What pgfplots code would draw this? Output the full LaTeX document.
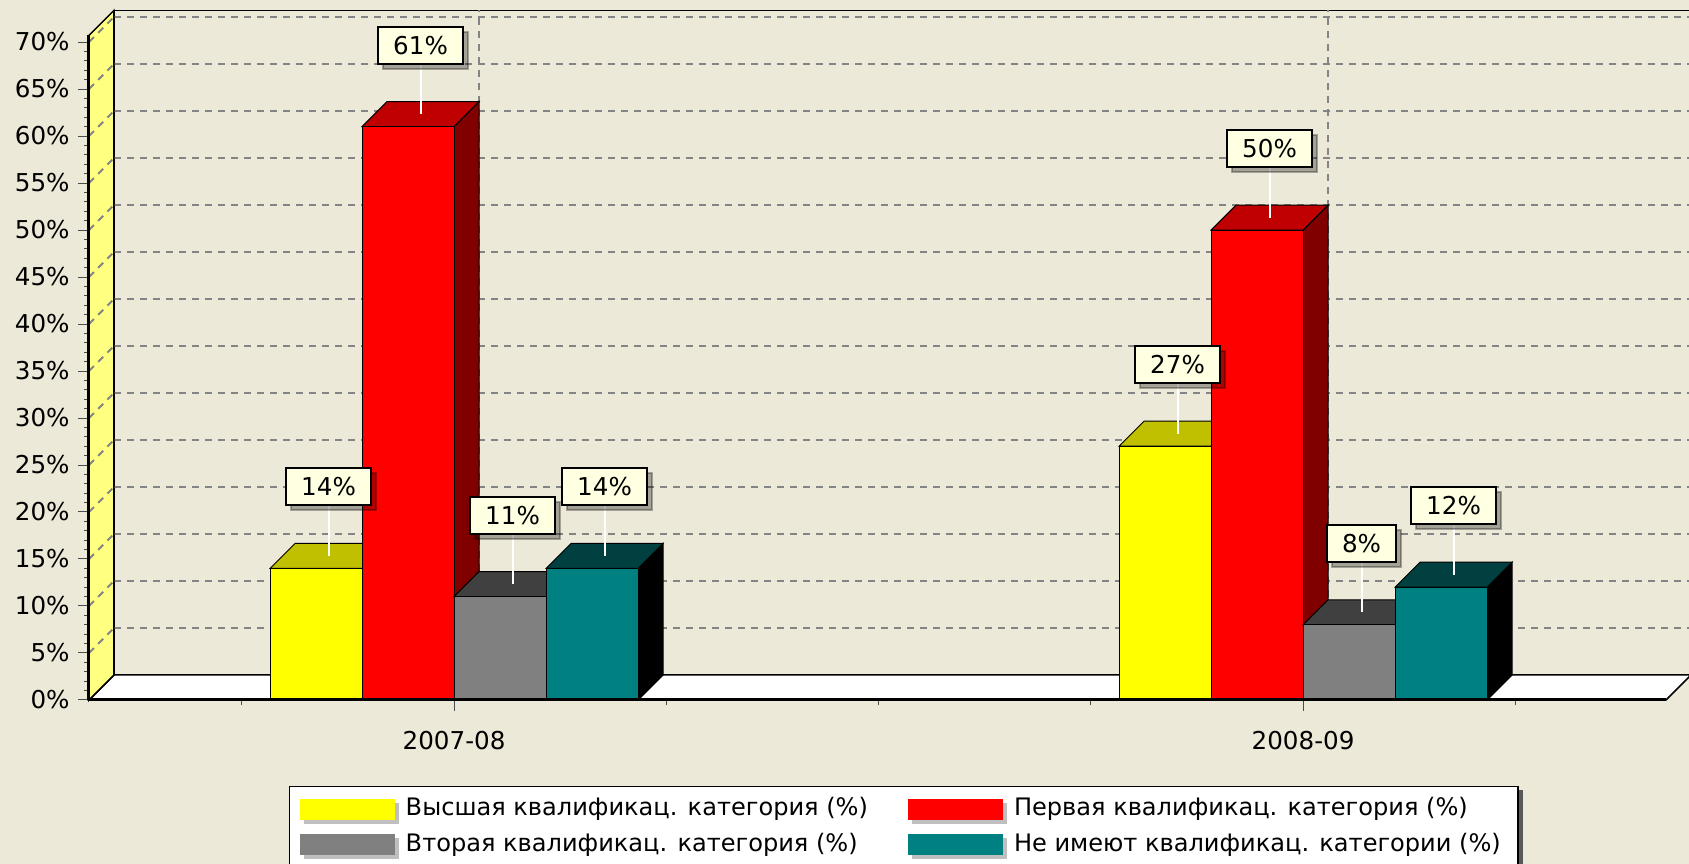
\documentclass[border=0pt]{standalone}
\usepackage{fontspec}
\setmainfont{DejaVu Sans}
\usepackage{pgfplots}
\pgfplotsset{compat=1.18}
\usepackage{pgfplotstable}
\usetikzlibrary{shadows}

\definecolor{bgc}{HTML}{ECE9D8}
\definecolor{wallc}{HTML}{FFFF80}
\definecolor{gridc}{HTML}{848484}
\definecolor{labc}{HTML}{FFFFE1}
\definecolor{cYel}{HTML}{FFFF00}
\definecolor{cYelT}{HTML}{C0C000}
\definecolor{cYelS}{HTML}{808000}
\definecolor{cRed}{HTML}{FF0000}
\definecolor{cRedT}{HTML}{C00000}
\definecolor{cRedS}{HTML}{800000}
\definecolor{cGry}{HTML}{808080}
\definecolor{cGryT}{HTML}{404040}
\definecolor{cGryS}{HTML}{202020}
\definecolor{cTea}{HTML}{008080}
\definecolor{cTeaT}{HTML}{004040}
\definecolor{cTeaS}{HTML}{000000}

\newcommand\cf{\fontsize{7pt}{8.4pt}\selectfont}
\newcommand\lf{\fontsize{6.85pt}{8.2pt}\selectfont}

\newdimen\myBarH
\newdimen\myDepth \myDepth=0.25cm
\newdimen\myBarW \myBarW=0.92cm
\def\myv{0}

\pgfdeclareplotmark{side3d}{%
  \myBarH=\myv\dimexpr0.0094cm\relax
  \pgfpathmoveto{\pgfqpoint{0pt}{0pt}}%
  \pgfpathlineto{\pgfqpoint{\myDepth}{\myDepth}}%
  \pgfpathlineto{\pgfqpoint{\myDepth}{\dimexpr\myDepth-\myBarH\relax}}%
  \pgfpathlineto{\pgfqpoint{0pt}{-\myBarH}}%
  \pgfpathclose
  \pgfusepathqfillstroke}
\pgfdeclareplotmark{top3d}{%
  \pgfpathmoveto{\pgfqpoint{0pt}{0pt}}%
  \pgfpathlineto{\pgfqpoint{-\myBarW}{0pt}}%
  \pgfpathlineto{\pgfqpoint{\dimexpr\myDepth-\myBarW\relax}{\myDepth}}%
  \pgfpathlineto{\pgfqpoint{\myDepth}{\myDepth}}%
  \pgfpathclose
  \pgfusepathqfillstroke}
\pgfdeclareplotmark{lead}{%
  \pgfpathmoveto{\pgfqpoint{0pt}{0pt}}%
  \pgfpathlineto{\pgfqpoint{0pt}{0.5cm}}%
  \pgfusepathqstroke}

\pgfplotstableread{
x v
0 14
1 27
}\tYel
\pgfplotstableread{
x v
0 61
1 50
}\tRed
\pgfplotstableread{
x v
0 11
1 8
}\tGry
\pgfplotstableread{
x v
0 14
1 12
}\tTea

\pgfplotsset{
  sidef/.style={forget plot, only marks, scatter,
    point meta=\thisrow{v}, point meta min=0, point meta max=100,
    scatter/@pre marker code/.code={\edef\myv{\pgfplotspointmetatransformed}},
    scatter/@post marker code/.code={},
    mark=side3d,
    mark options={fill=#1, draw=black, line width=0.1mm}},
  topf/.style={forget plot, only marks, mark=top3d,
    mark options={fill=#1, draw=black, line width=0.1mm}},
  frontf/.style={ybar, bar width=0.10836, fill=#1, draw=black, line width=0.1mm,
    legend image code/.code={%
      \fill[black!25] (0.04cm,-0.14cm) rectangle (0.98cm,0.06cm);
      \fill[#1] (0cm,-0.1cm) rectangle (0.94cm,0.1cm);}},
  labf/.style={forget plot, only marks, mark=lead,
    mark options={draw=white, line width=0.2mm},
    point meta=\thisrow{v},
    nodes near coords={\pgfmathprintnumber{\pgfplotspointmeta}\%},
    every node near coord/.append style={anchor=south, yshift=0.495cm,
      fill=labc, draw=black, line width=0.2mm,
      minimum height=0.37cm, inner xsep=0.15cm, inner ysep=0pt, font=\cf, text=black,
      drop shadow={shadow xshift=0.05cm, shadow yshift=-0.05cm, fill=black, opacity=0.3}}},
}

\begin{document}
\begin{tikzpicture}
\path[use as bounding box, fill=bgc] (0,0) rectangle (16.89,8.64);
% shadow of the legend box
\fill[black!65] (2.93,-0.1) rectangle (15.23,0.74);
\begin{axis}[
  at={(0.89cm,1.64cm)}, anchor=south west,
  x=8.49cm, y=0.094cm,
  xmin=-0.43, xmax=1.4275, ymin=0, ymax=70.7,
  clip=false, clip marker paths=true, axis on top,
  axis x line*=bottom, axis y line*=left,
  axis line style={black, line width=0.3mm},
  xtick={0,1}, xticklabels={2007-08,2008-09},
  minor xtick={-0.25,0.25,0.5,0.75,1.25},
  ytick={0,5,...,70}, minor y tick num=4,
  tick align=outside,
  major tick length=0.11cm, minor tick length=0.05cm,
  tick style={black!70, line width=0.1mm},
  yticklabel={\pgfmathprintnumber{\tick}\%},
  /pgf/number format/assume math mode=true,
  tick label style={font=\cf, text=black},
  yticklabel style={xshift=0.04cm},
  xticklabel style={yshift=-0.08cm},
  legend columns=2,
  legend cell align=left,
  legend style={at={(0.1268,-0.1294)}, anchor=north west, draw=black,
    line width=0.15mm, fill=white, font=\lf, inner xsep=0.1cm, inner ysep=0.07cm,
    nodes={inner ysep=1pt}, row sep=0.05cm,
    /tikz/every even column/.append style={column sep=0.33cm}},
]
% back wall
\draw[black, line width=0.15mm]
  ([shift={(0.25cm,0.25cm)}]axis cs:-0.43,0) -- ([shift={(0.25cm,0.25cm)}]axis cs:-0.43,70.7)
  -- ([shift={(0.25cm,0.25cm)}]axis cs:1.4275,70.7) -- ([shift={(0.25cm,0.25cm)}]axis cs:1.4275,0);
\pgfplotsinvokeforeach{5,10,...,70}{
  \draw[gridc, line width=0.2mm, dash pattern=on 0.7mm off 0.6mm]
    ([shift={(0.25cm,0.25cm)}]axis cs:-0.43,#1) -- ([shift={(0.25cm,0.25cm)}]axis cs:1.4275,#1);
}
\pgfplotsinvokeforeach{0,1}{
  \draw[gridc, line width=0.2mm, dash pattern=on 0.7mm off 0.6mm]
    ([shift={(0.25cm,0.25cm)}]axis cs:#1,0) -- ([shift={(0.25cm,0.25cm)}]axis cs:#1,70.7);
}
% floor
\filldraw[fill=white, draw=black, line width=0.15mm]
  (axis cs:-0.43,0) -- (axis cs:1.4275,0) -- ([shift={(0.25cm,0.25cm)}]axis cs:1.4275,0)
  -- ([shift={(0.25cm,0.25cm)}]axis cs:-0.43,0) -- cycle;
% left wall
\filldraw[fill=wallc, draw=black, line width=0.15mm]
  (axis cs:-0.43,0) -- (axis cs:-0.43,70.7) -- ([shift={(0.25cm,0.25cm)}]axis cs:-0.43,70.7)
  -- ([shift={(0.25cm,0.25cm)}]axis cs:-0.43,0) -- cycle;
\pgfplotsinvokeforeach{5,10,...,70}{
  \draw[gridc, line width=0.2mm, dash pattern=on 0.7mm off 0.6mm]
    (axis cs:-0.43,#1) -- ([shift={(0.25cm,0.25cm)}]axis cs:-0.43,#1);
}

% bars
\addplot[sidef=cYelS] table[x expr=\thisrow{x}-0.10836, y=v]{\tYel};
\addplot[topf=cYelT] table[x expr=\thisrow{x}-0.10836, y=v]{\tYel};
\addplot[frontf=cYel, bar shift=-0.16254] table[x=x, y=v]{\tYel};
\addlegendentry{Высшая квалификац. категория (\%)}

\addplot[sidef=cRedS] table[x expr=\thisrow{x}, y=v]{\tRed};
\addplot[topf=cRedT] table[x expr=\thisrow{x}, y=v]{\tRed};
\addplot[frontf=cRed, bar shift=-0.05418] table[x=x, y=v]{\tRed};
\addlegendentry{Первая квалификац. категория (\%)}

\addplot[sidef=cGryS] table[x expr=\thisrow{x}+0.10836, y=v]{\tGry};
\addplot[topf=cGryT] table[x expr=\thisrow{x}+0.10836, y=v]{\tGry};
\addplot[frontf=cGry, bar shift=0.05418] table[x=x, y=v]{\tGry};
\addlegendentry{Вторая квалификац. категория (\%)}

\addplot[sidef=cTeaS] table[x expr=\thisrow{x}+0.21672, y=v]{\tTea};
\addplot[topf=cTeaT] table[x expr=\thisrow{x}+0.21672, y=v]{\tTea};
\addplot[frontf=cTea, bar shift=0.16254] table[x=x, y=v]{\tTea};
\addlegendentry{Не имеют квалификац. категории (\%)}

% labels
\addplot[labf] table[x expr=\thisrow{x}-0.14782, y expr=\thisrow{v}+1.3298]{\tYel};
\addplot[labf] table[x expr=\thisrow{x}-0.03946, y expr=\thisrow{v}+1.3298]{\tRed};
\addplot[labf] table[x expr=\thisrow{x}+0.06890, y expr=\thisrow{v}+1.3298]{\tGry};
\addplot[labf] table[x expr=\thisrow{x}+0.17726, y expr=\thisrow{v}+1.3298]{\tTea};
\end{axis}
\end{tikzpicture}
\end{document}
